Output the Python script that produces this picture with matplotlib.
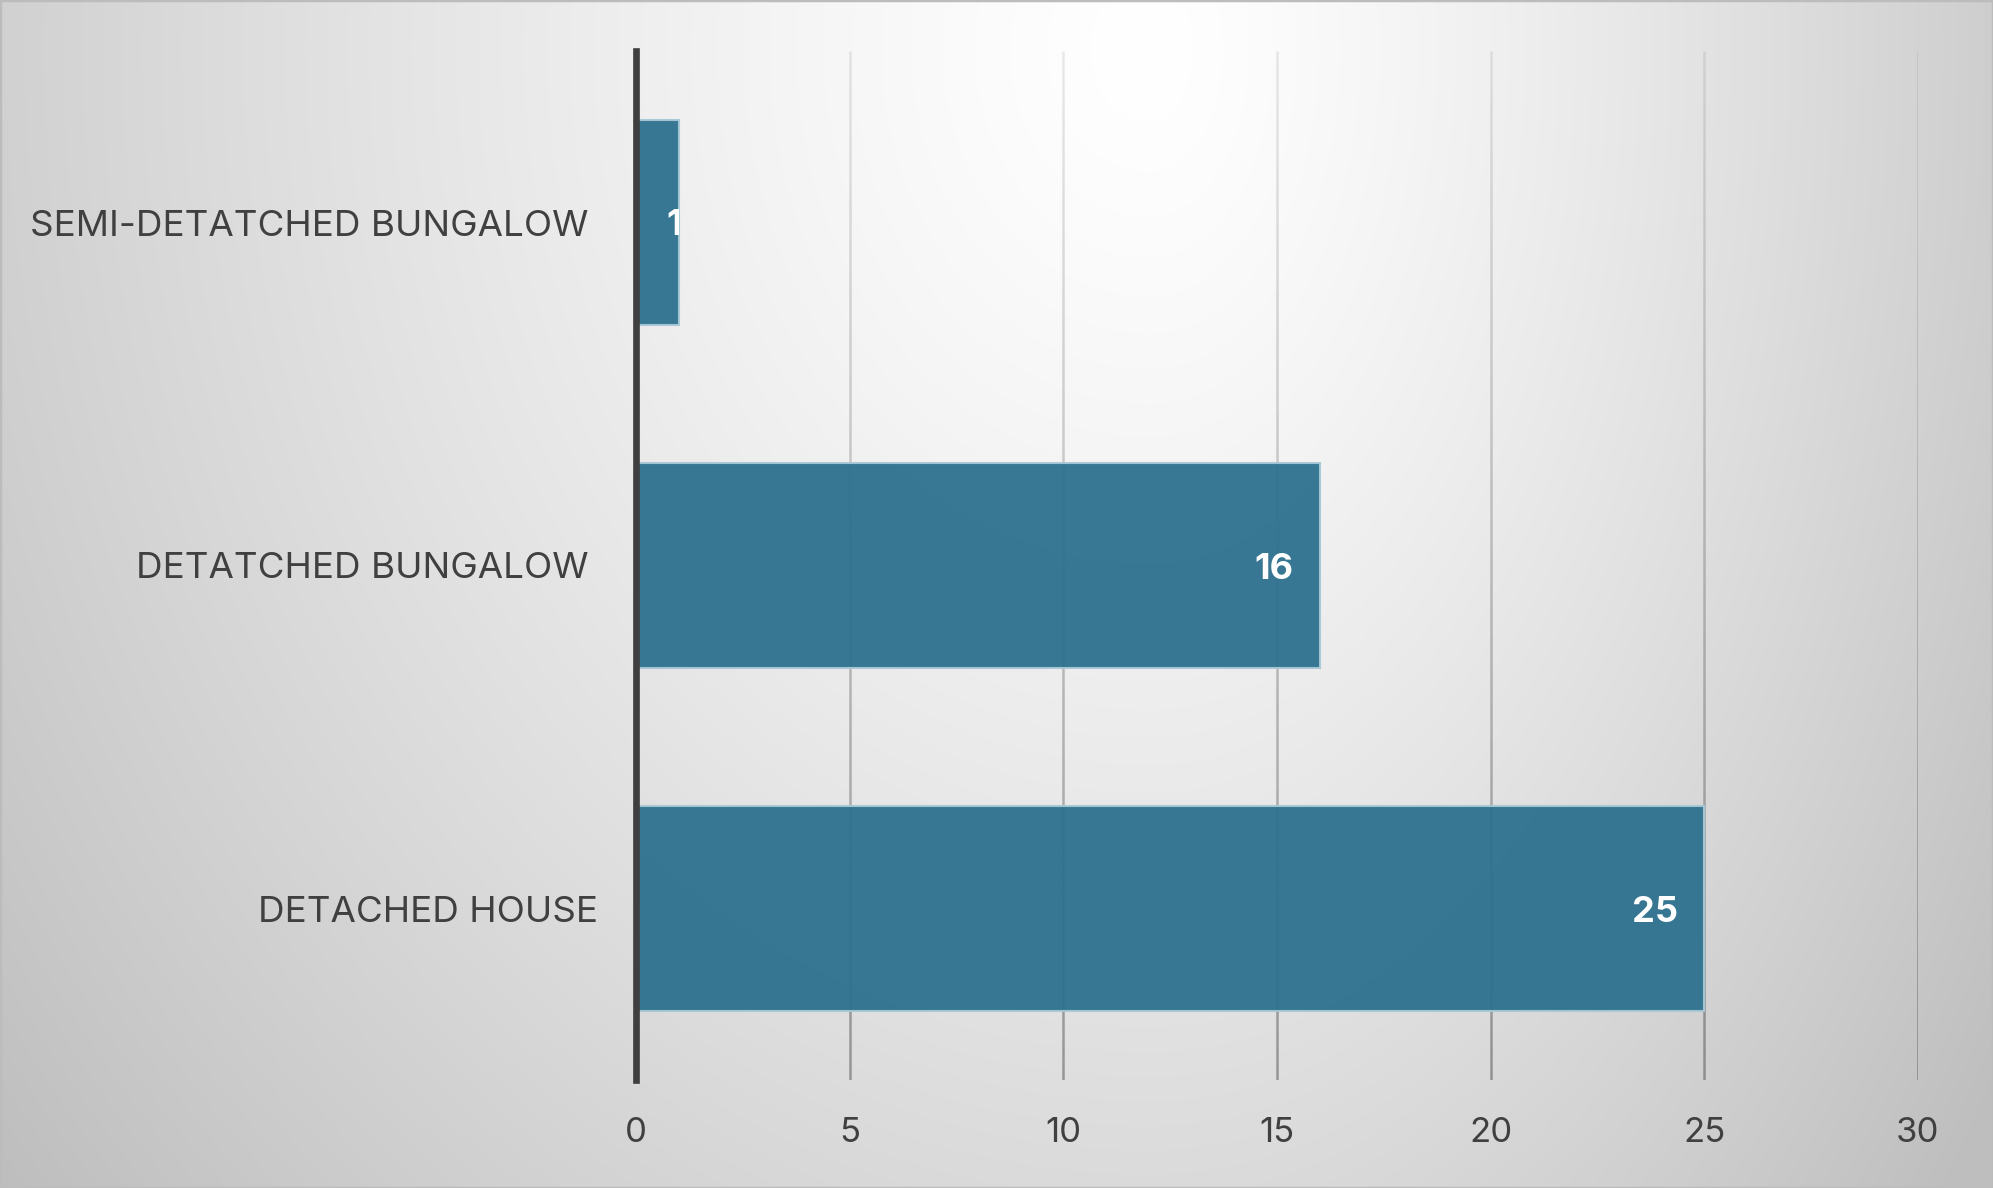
import matplotlib.pyplot as plt
import matplotlib.transforms as mtransforms
import numpy as np
from matplotlib.collections import LineCollection
from matplotlib.patches import Rectangle

# data
categories = ['DETACHED HOUSE', 'DETATCHED BUNGALOW', 'SEMI-DETATCHED BUNGALOW']
counts = [25, 16, 1]
xticks = [0, 5, 10, 15, 20, 25, 30]

W, H, DPI = 1993, 1188, 100
fig = plt.figure(figsize=(W / DPI, H / DPI), dpi=DPI)

# radial grey background (brightest near top centre-right)
yy, xx = np.mgrid[0:H, 0:W].astype(float)
cx, cy = 1150.0, 50.0
rx = np.where(xx < cx, 1350.0, 950.0)
d = np.sqrt(((xx - cx) / rx) ** 2 + ((yy - cy) / 1600.0) ** 2)
d = np.clip(d, 0, 1.1)
shade = np.clip((255 - 57 * d ** 1.3) / 255.0, 0, 1)
bg = fig.add_axes([0, 0, 1, 1], zorder=-1)
bg.imshow(np.dstack([shade] * 3), aspect='auto', extent=[0, 1, 0, 1])
bg.axis('off')
fig.patches.append(Rectangle((0, 0), 1, 1, transform=fig.transFigure,
                             fill=False, edgecolor='#bcbcbc', lw=2.5))

ax = fig.add_axes([636 / W, 1 - 1080 / H, (1918 - 636) / W, (1080 - 51) / H])
ax.set_facecolor('none')

ypos = np.arange(len(categories))
bars = ax.barh(ypos, counts, height=0.6, color='#2e718f', alpha=0.95,
               edgecolor='#a8c8d6', linewidth=1.5, zorder=3)

ax.set_xlim(0, 30)
ax.set_ylim(-0.5, len(categories) - 0.5)
ax.set_xticks(xticks)
ax.set_yticks(ypos)
ax.set_yticklabels(categories)

# vertical gridlines that fade toward the top
for xv in xticks[1:]:
    n = 60
    ys = np.linspace(-0.5, len(categories) - 0.5, n + 1)
    segs = [[(xv, ys[i]), (xv, ys[i + 1])] for i in range(n)]
    t = np.linspace(1, 0, n)
    cols = [(0.2, 0.2, 0.2, 0.10 + 0.32 * ti) for ti in t]
    ax.add_collection(LineCollection(segs, colors=cols, linewidths=1.8, zorder=2))

for s in ['top', 'right', 'bottom']:
    ax.spines[s].set_visible(False)
ax.spines['left'].set_color('#3f3f3f')
ax.spines['left'].set_linewidth(4.8)
ax.spines['left'].set_zorder(4)

ax.tick_params(axis='both', length=0, colors='#404040')
ax.tick_params(axis='x', pad=27)
ax.tick_params(axis='y', pad=34)
for lab in ax.get_xticklabels():
    lab.set_family('Inter')
    lab.set_fontsize(25)
    lab.set_color('#404040')
for lab in ax.get_yticklabels():
    lab.set_family('Inter')
    lab.set_fontsize(26.5)
    lab.set_color('#404040')
# the bottom category label sits a little further right in the original
ylab0 = ax.get_yticklabels()[0]
ylab0.set_transform(ylab0.get_transform() +
                    mtransforms.ScaledTranslation(9 / DPI, 0, fig.dpi_scale_trans))

# data labels, inside end
for bar, v in zip(bars, counts):
    yc = bar.get_y() + bar.get_height() / 2
    if v >= 3:
        t = ax.annotate(str(v), (v, yc), xytext=(-19, -3), textcoords='offset points',
                        ha='right', va='center', color='white', fontsize=26,
                        fontweight='bold', family='Inter', zorder=5)
    else:
        t = ax.annotate(str(v), (v, yc), xytext=(-3, -2), textcoords='offset points',
                        ha='center', va='center', color='white', fontsize=26,
                        fontweight='bold', family='Inter', zorder=5)
        t.set_clip_path(bar)

fig.savefig('out.png', dpi=DPI)
